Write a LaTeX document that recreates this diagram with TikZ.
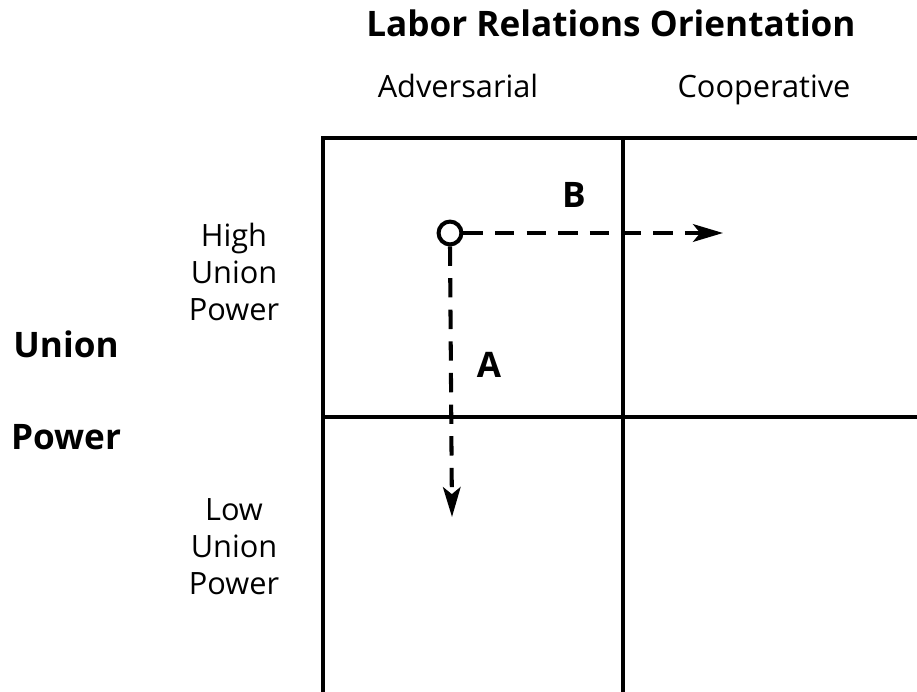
\documentclass[tikz,border=0pt]{standalone}
\usepackage{fontspec}
\setmainfont{Open Sans}
\usetikzlibrary{positioning,arrows.meta}

\begin{document}
\begin{tikzpicture}[x=0.02cm, y=-0.02cm,
        every node/.style={font=\fontsize{17.5}{21}\selectfont, align=center, inner sep=0pt},
        heading/.style={font=\fontsize{20}{24}\selectfont\bfseries},
        gridline/.style={line width=2.3pt},
        path/.style={line width=2.3pt, dash pattern=on 11pt off 7pt, -{Stealth[length=17pt, width=10pt, inset=4pt]}}]
        \useasboundingbox (0,0) rectangle (917,692);

        % grid
        \draw[gridline] (323,692) -- (323,138) -- (917,138);
        \draw[gridline] (623,138) -- (623,692);
        \draw[gridline] (323,417) -- (917,417);

        % headings
        \node[heading, anchor=base] (title) at (611,37) {Labor Relations Orientation};
        \node[anchor=base] (adv) at (458,98) {Adversarial};
        \node[anchor=base] (coop) at (764,98) {Cooperative};
        \node[heading, anchor=base] (union) at (66,358) {Union};
        \node[heading, anchor=base] (power) at (66,450) {Power};
        \node[anchor=north] (high) at (234,223) {High\\Union\\Power};
        \node[anchor=north] (low) at (234,498) {Low\\Union\\Power};

        % start point and moves
        \node[draw, circle, line width=2.3pt, minimum size=13pt] (start) at (450,233) {};
        \coordinate (endB) at (723,233);
        \coordinate (endA) at (452,517);
        \draw[path] (start) -- (endB);
        \draw[path] (start.south) -- (endA);
        \node[heading] (labB) at (574,195) {B};
        \node[heading] (labA) at (489,365) {A};
    \end{tikzpicture}
\end{document}
